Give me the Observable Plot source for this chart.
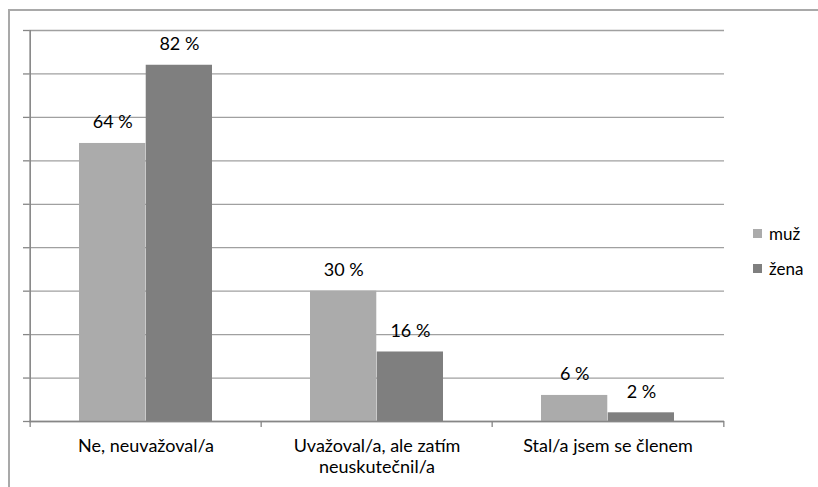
<!DOCTYPE html>
<html>
<head>
<meta charset="utf-8">
<script src="https://cdn.jsdelivr.net/npm/d3@7"></script>
<script src="https://cdn.jsdelivr.net/npm/@observablehq/plot@0.6"></script>
<style>
  body { margin: 0; background: #fff; font-family: Lato, "Open Sans", sans-serif; }
  #wrap { position: relative; width: 818px; height: 487px; overflow: hidden; }
  #border { position: absolute; left: 8px; top: 9px; width: 830px; height: 500px;
            border-left: 2px solid #a9a9a9; border-top: 2px solid #a9a9a9; pointer-events: none; }
  #legend { position: absolute; left: 753px; top: 216px; font-size: 17px; color: #000; }
  #legend .item { display: flex; align-items: center; height: 35px; }
  #legend .sw { width: 9px; height: 9px; margin-right: 7px; }
  #chart svg { display: block; }
</style>
</head>
<body>
<div id="wrap">
  <div id="chart"></div>
  <div id="border"></div>
  <div id="legend"></div>
</div>
<script>
const categories = ["Ne, neuvažoval/a", "Uvažoval/a, ale zatím neuskutečnil/a", "Stal/a jsem se členem"];
const tickLabels = ["Ne, neuvažoval/a", "Uvažoval/a, ale zatím\nneuskutečnil/a", "Stal/a jsem se členem"];
const series = ["muž", "žena"];
const muzValues = [64, 30, 6];
const zenaValues = [82, 16, 2];
const colors = ["#ababab", "#7f7f7f"];
const yTicks = [0, 10, 20, 30, 40, 50, 60, 70, 80, 90];

const W = 818, H = 487;
const mL = 29, mR = 94, mT = 30, mB = 66;
const padInner = 0.424, padOuter = padInner / 2;
const step = (W - mL - mR) / (categories.length - padInner + 2 * padOuter);
const barW = step * (1 - padInner) / 2;

const muz = categories.map((c, i) => ({category: c, value: muzValues[i], series: series[0]}));
const zena = categories.map((c, i) => ({category: c, value: zenaValues[i], series: series[1]}));

const axisColor = "#868686";
const gridColor = "#a0a0a0";
const fs = 18;

const chart = Plot.plot({
  width: W, height: H,
  marginLeft: mL, marginRight: mR, marginTop: mT, marginBottom: mB,
  style: {fontFamily: "Lato, 'Open Sans', sans-serif", fontSize: fs + "px", color: "#000", background: "#fff"},
  x: {type: "band", domain: categories, paddingInner: padInner, paddingOuter: padOuter, label: null},
  y: {domain: [0, 90], label: null},
  marks: [
    Plot.gridY(yTicks, {stroke: gridColor, strokeOpacity: 1, strokeWidth: 1.3}),
    Plot.barY(muz, {x: "category", y: "value", fill: colors[0], insetRight: barW, insetLeft: 0}),
    Plot.barY(zena, {x: "category", y: "value", fill: colors[1], insetLeft: barW, insetRight: 0}),
    Plot.ruleY([0], {stroke: axisColor, strokeWidth: 1.6}),
    Plot.ruleX([categories[0]], {y1: 0, y2: 90, dx: -step / 2, stroke: axisColor, strokeWidth: 1.6}),
    Plot.axisY(yTicks, {tickSize: 6, tickFormat: () => "", stroke: axisColor, strokeWidth: 1.3}),
    Plot.axisX({tickSize: 6, dx: -step / 2, tickFormat: () => "", stroke: axisColor, strokeWidth: 1.3, label: null}),
    Plot.axisX([categories[categories.length - 1]], {tickSize: 6, dx: step / 2, tickFormat: () => "", stroke: axisColor, strokeWidth: 1.3, label: null}),
    Plot.axisX({tickSize: 0, tickPadding: 16, fontSize: fs, lineHeight: 1.15, label: null,
      tickFormat: d => tickLabels[categories.indexOf(d)]}),
    Plot.text(muz, {x: "category", y: "value", text: d => d.value + " %", dx: -barW / 2, dy: -21, fontSize: fs, fill: "#000"}),
    Plot.text(zena, {x: "category", y: "value", text: d => d.value + " %", dx: barW / 2, dy: -21, fontSize: fs, fill: "#000"})
  ]
});
document.getElementById("chart").appendChild(chart);

const legend = document.getElementById("legend");
series.forEach((s, i) => {
  const item = document.createElement("div");
  item.className = "item";
  const sw = document.createElement("span");
  sw.className = "sw";
  sw.style.background = colors[i];
  const label = document.createElement("span");
  label.textContent = s;
  item.appendChild(sw);
  item.appendChild(label);
  legend.appendChild(item);
});
</script>
</body>
</html>
